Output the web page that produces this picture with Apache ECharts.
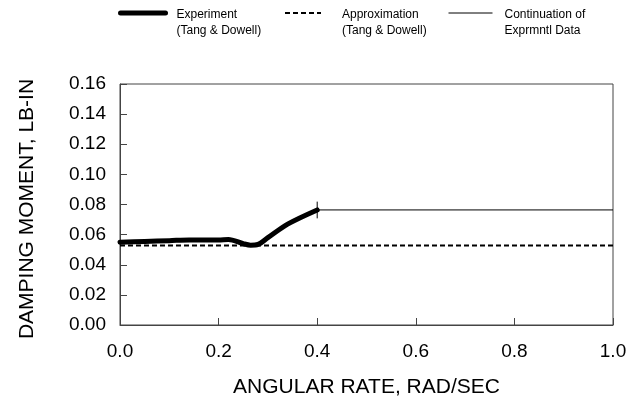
<!DOCTYPE html>
<html>
<head>
<meta charset="utf-8">
<script src="https://cdn.jsdelivr.net/npm/echarts@6/dist/echarts.min.js"></script>
<style>
html, body { margin: 0; padding: 0; background: #fff; }
#chart { width: 629px; height: 397px; }
</style>
</head>
<body>
<div id="chart"></div>
<script>
// Measured damping moment (Tang & Dowell), [rate, moment]
const experimentRate   = [0.0, 0.05, 0.10, 0.14, 0.20, 0.22, 0.25, 0.265, 0.28, 0.30, 0.34, 0.40];
const experimentMoment = [0.0550, 0.0555, 0.0560, 0.0565, 0.0565, 0.0568, 0.0540, 0.0530, 0.0535, 0.0580, 0.0670, 0.0764];
// Analytical approximation (Tang & Dowell)
const approxRate   = [0.0, 1.0];
const approxMoment = [0.0527, 0.0527];
// Measured data held constant beyond the last test point
const continuationRate   = [0.4, 1.0];
const continuationMoment = [0.0764, 0.0764];
// Vertical marker at the last measured point
const markerRate   = [0.4, 0.4];
const markerMoment = [0.0708, 0.0819];

const xTicks = [0.0, 0.2, 0.4, 0.6, 0.8, 1.0];
const yTicks = [0.00, 0.02, 0.04, 0.06, 0.08, 0.10, 0.12, 0.14, 0.16];

const zip = (xs, ys) => xs.map((x, i) => [x, ys[i]]);
const FONT = 'Liberation Sans, Arial, sans-serif';

const chart = echarts.init(document.getElementById('chart'), null, { renderer: 'canvas' });

// One legend block per series so each sample sits at its own spot.
// An empty leading line drops the two-line caption below the sample.
function legendAt(left, width, name, textPad, line) {
  return {
    left: left, top: -9, padding: 0,
    itemWidth: width, itemHeight: 14,
    data: [name],
    selectedMode: false,
    itemStyle: { opacity: 0 },
    lineStyle: line,
    formatter: n => '{s| }\n' + n.split('\n').map(t => '{t|' + t + '}').join('\n'),
    textStyle: {
      fontFamily: FONT, fontSize: 12, color: '#000', padding: [0, 0, 0, textPad],
      rich: {
        s: { fontSize: 12, lineHeight: 20 },
        t: { fontFamily: FONT, fontSize: 12, color: '#000', lineHeight: 16 }
      }
    }
  };
}

chart.setOption({
  animation: false,
  backgroundColor: '#fff',
  legend: [
    legendAt(118, 45, 'Experiment\n(Tang & Dowell)', 6, { color: '#000', width: 5, type: 'solid' }),
    legendAt(284, 36, 'Approximation\n(Tang & Dowell)', 16, { color: '#000', width: 2, type: [5, 3] }),
    legendAt(448, 44, 'Continuation of\nExprmntl Data', 7, { color: '#000', width: 1, type: 'solid' })
  ],
  grid: {
    left: 120, right: 16, top: 84, bottom: 72,
    outerBoundsMode: 'none',
    show: true, borderColor: '#444', borderWidth: 1, backgroundColor: 'transparent'
  },
  xAxis: {
    type: 'value', min: xTicks[0], max: xTicks[xTicks.length - 1], interval: 0.2,
    name: 'ANGULAR RATE, RAD/SEC', nameLocation: 'middle', nameGap: 52,
    nameTextStyle: { fontFamily: FONT, fontSize: 21, color: '#000' },
    axisLine: { show: true, lineStyle: { color: '#444', width: 1 } },
    axisTick: { show: true, inside: true, length: 7, lineStyle: { color: '#444' } },
    axisLabel: { fontFamily: FONT, fontSize: 19, color: '#000', margin: 17,
      formatter: v => v.toFixed(1) },
    splitLine: { show: false }
  },
  yAxis: {
    type: 'value', min: yTicks[0], max: yTicks[yTicks.length - 1], interval: 0.02,
    name: 'DAMPING MOMENT, LB-IN', nameLocation: 'middle', nameGap: 82,
    nameTextStyle: { fontFamily: FONT, fontSize: 21, color: '#000', padding: [0, 9, 0, 0] },
    axisLine: { show: true, lineStyle: { color: '#444', width: 1 } },
    axisTick: { show: true, inside: true, length: 7, lineStyle: { color: '#444' } },
    axisLabel: { fontFamily: FONT, fontSize: 19, color: '#000', margin: 14, padding: [3, 0, 0, 0],
      formatter: v => v.toFixed(2) },
    splitLine: { show: false }
  },
  series: [
    {
      name: 'Approximation\n(Tang & Dowell)', type: 'line', symbol: 'none',
      data: zip(approxRate, approxMoment),
      itemStyle: { color: '#000' },
      lineStyle: { color: '#000', width: 2, type: [5, 3] }, z: 2
    },
    {
      name: 'Continuation of\nExprmntl Data', type: 'line', symbol: 'none',
      data: zip(continuationRate, continuationMoment),
      itemStyle: { color: '#000' },
      lineStyle: { color: '#000', width: 1 }, z: 2
    },
    {
      name: 'marker', type: 'line', symbol: 'none',
      data: zip(markerRate, markerMoment),
      itemStyle: { color: '#000' },
      lineStyle: { color: '#000', width: 1 }, z: 2
    },
    {
      name: 'Experiment\n(Tang & Dowell)', type: 'line', symbol: 'none', smooth: 0.3,
      data: zip(experimentRate, experimentMoment),
      itemStyle: { color: '#000' },
      lineStyle: { color: '#000', width: 5, cap: 'round', join: 'round' }, z: 3
    }
  ]
});
</script>
</body>
</html>
